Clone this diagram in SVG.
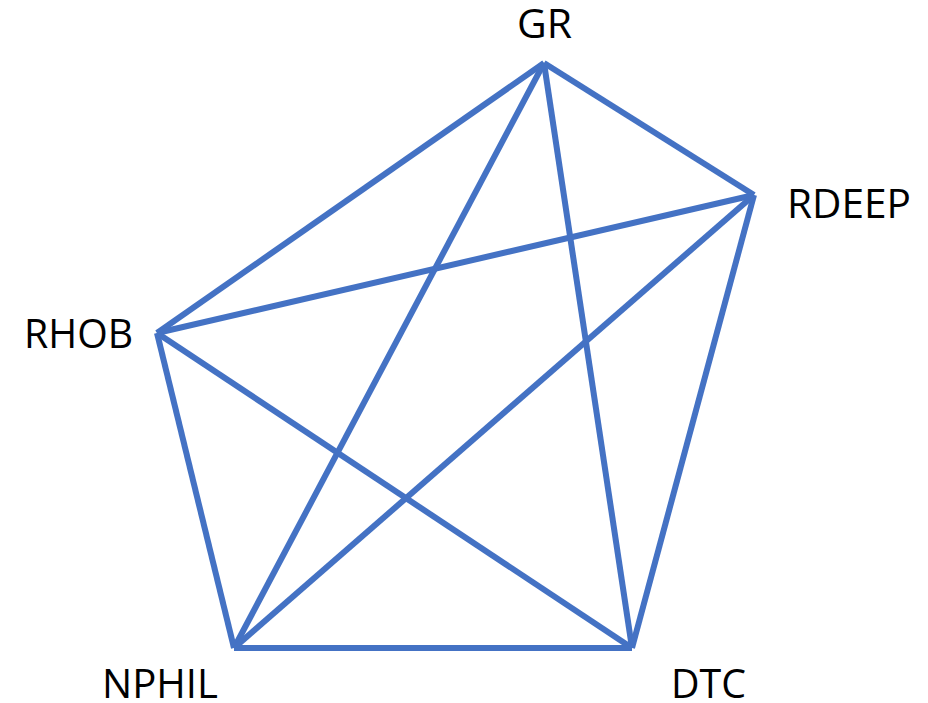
<svg xmlns="http://www.w3.org/2000/svg" width="928" height="703" viewBox="0 0 928 703">
<style>
.e{stroke:#4472C4;stroke-width:6;stroke-linecap:butt;stroke-linejoin:miter;fill:none}
.t{font-family:"Open Sans","Liberation Sans",sans-serif;font-size:41px;fill:#000}
</style>
<rect width="928" height="703" fill="#fff"/>
<g id="connectors">
<line class="e" x1="544" y1="63" x2="754" y2="195"/>
<line class="e" x1="544" y1="63" x2="157" y2="333"/>
<line class="e" x1="544" y1="63" x2="234" y2="648"/>
<line class="e" x1="544" y1="63" x2="632" y2="648"/>
<line class="e" x1="754" y1="195" x2="157" y2="333"/>
<line class="e" x1="754" y1="195" x2="234" y2="648"/>
<line class="e" x1="754" y1="195" x2="632" y2="648"/>
<line class="e" x1="157" y1="333" x2="234" y2="648"/>
<line class="e" x1="157" y1="333" x2="632" y2="648"/>
<line class="e" x1="234" y1="648" x2="632" y2="648"/>
</g>
<g id="GR"><text class="t" x="517" y="38" textLength="55" lengthAdjust="spacingAndGlyphs">GR</text></g>
<g id="RDEEP"><text class="t" x="787" y="218" textLength="124" lengthAdjust="spacingAndGlyphs">RDEEP</text></g>
<g id="RHOB"><text class="t" x="24" y="348" textLength="109" lengthAdjust="spacingAndGlyphs">RHOB</text></g>
<g id="NPHIL"><text class="t" x="102" y="698" textLength="116" lengthAdjust="spacingAndGlyphs">NPHIL</text></g>
<g id="DTC"><text class="t" x="671" y="698" textLength="75" lengthAdjust="spacingAndGlyphs">DTC</text></g>
</svg>
